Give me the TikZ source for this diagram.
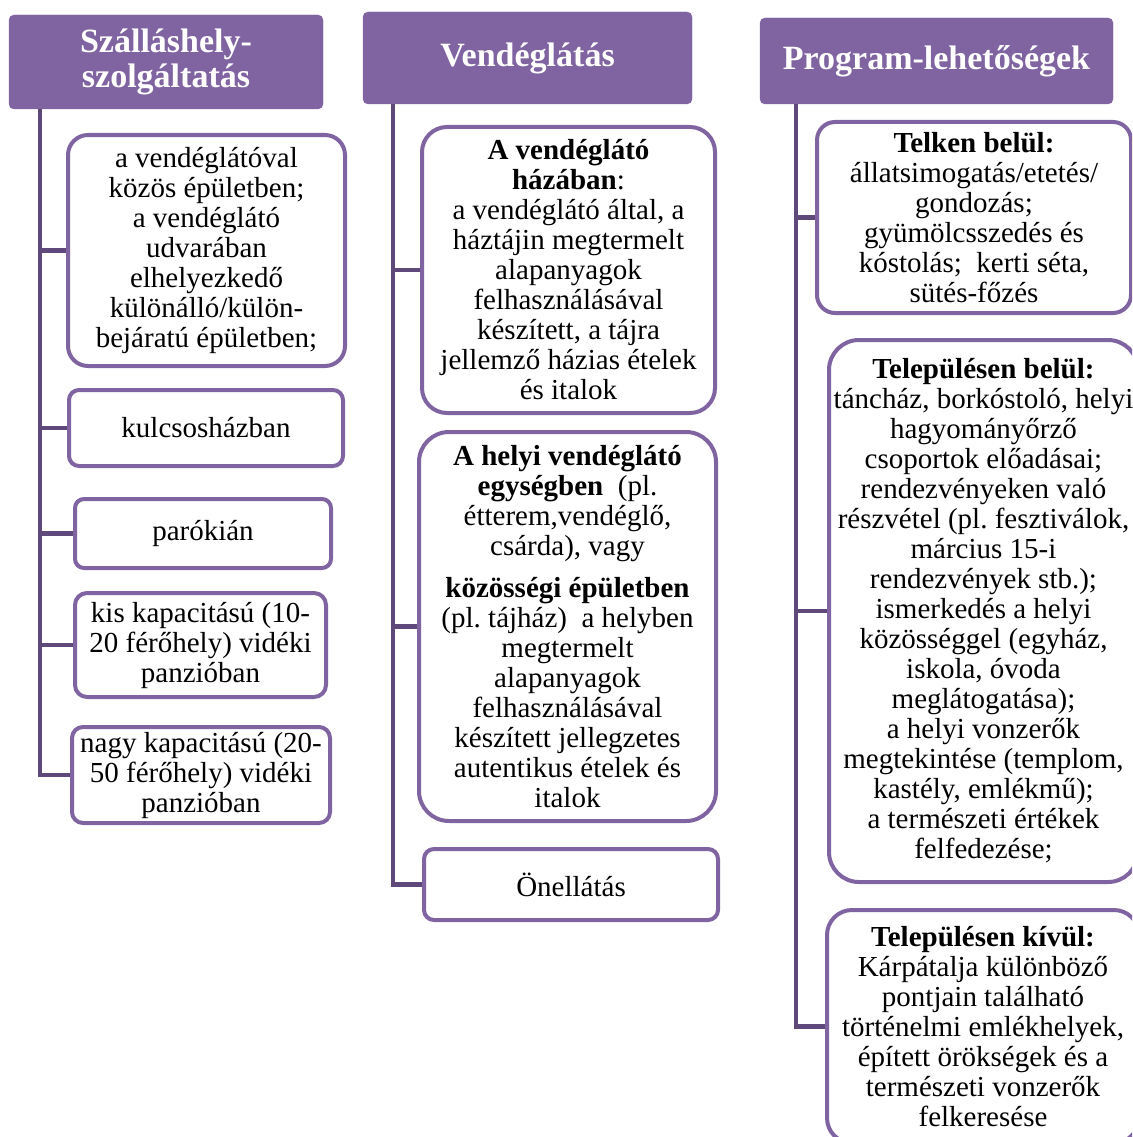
\documentclass[tikz,border=0pt]{standalone}
\usepackage{fontspec}
\setmainfont{Liberation Serif}
\definecolor{hdr}{HTML}{8064A2}
\definecolor{trunkc}{HTML}{5F497A}
\frenchspacing
\begin{document}
\begin{tikzpicture}[x=1pt,y=-1pt,
  hdrbox/.style={fill=hdr, draw=hdr, rounded corners=5pt, text=white,
    font=\fontsize{34}{35}\selectfont\bfseries, align=center, inner sep=0pt},
  itembox/.style={draw=hdr, line width=4pt, fill=white, align=center,
    inner sep=0pt, font=\fontsize{29}{30}\selectfont},
  conn/.style={draw=trunkc, line width=4.5pt}
]
\useasboundingbox (0,0) rectangle (1132,1137);
\clip (0,0) rectangle (1132,1137);

% headers
\node[hdrbox, minimum width=314pt, minimum height=94pt] (H1) at (166,62) {Szálláshely-\\szolgáltatás};
\node[hdrbox, minimum width=329pt, minimum height=92pt] (H2) at (527.5,58) {Vendéglátás};
\node[hdrbox, minimum width=353pt, minimum height=86pt] (H3) at (936.5,61) {Program-lehetőségek};

% trunk x positions
\coordinate (lt) at (40,0);
\coordinate (mt) at (393,0);
\coordinate (rt) at (796,0);

% left column boxes
\node[itembox, rounded corners=20pt, minimum width=277pt, minimum height=231pt] (L1) at (206.5,250.5)
  {a vendéglátóval\\közös épületben;\\a vendéglátó\\udvarában\\elhelyezkedő\\különálló/külön-\\bejáratú épületben;};
\node[itembox, rounded corners=10pt, minimum width=274pt, minimum height=76pt] (L2) at (206,428) {kulcsosházban};
\node[itembox, rounded corners=9pt, minimum width=256pt, minimum height=69pt] (L3) at (203,533.5) {parókián};
\node[itembox, rounded corners=12pt, minimum width=251pt, minimum height=104pt] (L4) at (200.5,645)
  {kis kapacitású (10-\\20 férőhely) vidéki\\panzióban};
\node[itembox, rounded corners=11pt, minimum width=258pt, minimum height=96pt] (L5) at (201,775)
  {nagy kapacitású (20-\\50 férőhely) vidéki\\panzióban};

% middle column boxes
\node[itembox, rounded corners=25pt, minimum width=293pt, minimum height=286pt] (M1) at (568.5,270)
  {\textbf{A vendéglátó}\\\textbf{házában}:\\a vendéglátó által, a\\háztájin megtermelt\\alapanyagok\\felhasználásával\\készített, a tájra\\jellemző házias ételek\\és italok};
\node[itembox, rounded corners=30pt, minimum width=297pt, minimum height=389pt] (M2) at (567.5,626.5)
  {\textbf{A helyi vendéglátó}\\\textbf{egységben}\ \ (pl.\\étterem,vendéglő,\\csárda), vagy\\[12pt]\textbf{közösségi épületben}\\(pl. tájház)\ \ a helyben\\megtermelt\\alapanyagok\\felhasználásával\\készített jellegzetes\\autentikus ételek és\\italok};
\node[itembox, rounded corners=10pt, minimum width=294pt, minimum height=71pt] (M3) at (571,884.5) {Önellátás};

% right column boxes
\node[itembox, rounded corners=18pt, minimum width=314pt, minimum height=191pt] (R1) at (974,217.5)
  {\textbf{Telken belül:}\\állatsimogatás/etetés/\\gondozás;\\gyümölcsszedés és\\kóstolás;\ \ kerti séta,\\sütés-főzés};
\node[itembox, rounded corners=30pt, minimum width=309pt, minimum height=542pt] (R2) at (983.5,611)
  {\textbf{Településen belül:}\\táncház, borkóstoló, helyi\\hagyományőrző\\csoportok előadásai;\\rendezvényeken való\\részvétel (pl. fesztiválok,\\március 15-i\\rendezvények stb.);\\ismerkedés a helyi\\közösséggel (egyház,\\iskola, óvoda\\meglátogatása);\\a helyi vonzerők\\megtekintése (templom,\\kastély, emlékmű);\\a természeti értékek\\felfedezése;};
\node[itembox, rounded corners=25pt, minimum width=312pt, minimum height=233pt] (R3) at (983,1026.5)
  {\textbf{Településen kívül:}\\Kárpátalja különböző\\pontjain található\\történelmi emlékhelyek,\\épített örökségek és a\\természeti vonzerők\\felkeresése};

% connectors
\draw[conn] (H1.south -| lt) -- (L5.west -| lt) -- (L5.west);
\foreach \b in {L1,L2,L3,L4} \draw[conn] (\b.west -| lt) -- (\b.west);
\draw[conn] (H2.south -| mt) -- (M3.west -| mt) -- (M3.west);
\foreach \b in {M1,M2} \draw[conn] (\b.west -| mt) -- (\b.west);
\draw[conn] (H3.south -| rt) -- (R3.west -| rt) -- (R3.west);
\foreach \b in {R1,R2} \draw[conn] (\b.west -| rt) -- (\b.west);
\end{tikzpicture}
\end{document}
